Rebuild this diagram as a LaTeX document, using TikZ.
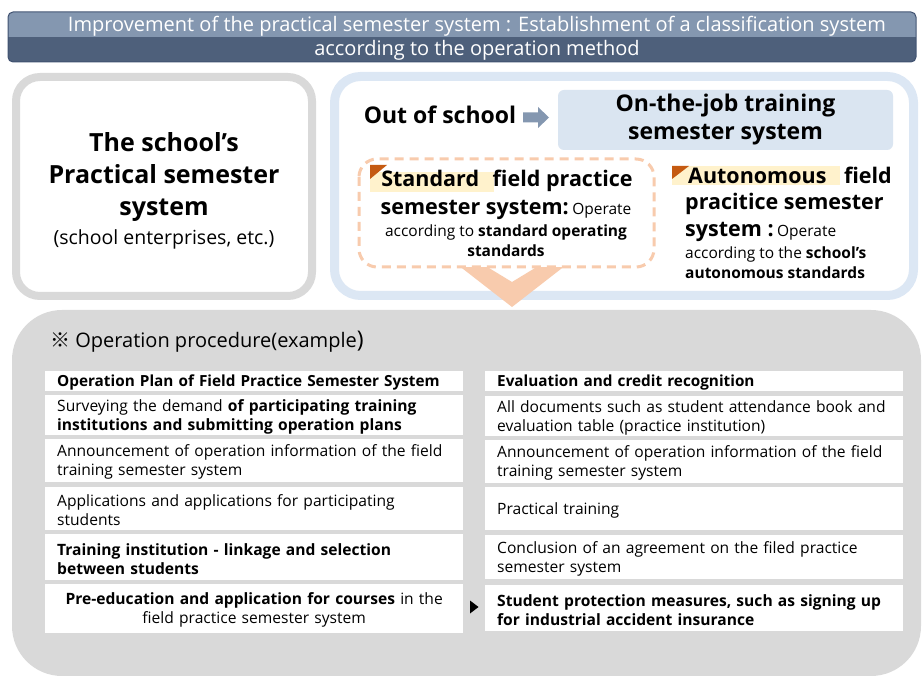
\documentclass[tikz,border=0pt]{standalone}
\usepackage{fontspec}
\setmainfont{Open Sans}
\newfontfamily\cjk{Noto Sans CJK SC}
\usetikzlibrary{positioning}
\definecolor{titlelight}{HTML}{8497B0}
\definecolor{titledark}{HTML}{4E607B}
\definecolor{titleedge}{HTML}{3F5170}
\definecolor{graybd}{HTML}{D9D9D9}
\definecolor{bluebd}{HTML}{DCE7F4}
\definecolor{ojtfill}{HTML}{DAE5F1}
\definecolor{peach}{HTML}{F8CBAD}
\definecolor{flagc}{HTML}{C55A11}
\definecolor{hlc}{HTML}{FFF2CC}
\definecolor{arrowc}{HTML}{8497B0}
\tikzset{
  rowbox/.style={fill=white, inner xsep=12pt, inner ysep=0pt, text width=394pt, align=left, anchor=north west,
    font=\fontsize{15.6}{19}\selectfont, execute at begin node=\rule{0pt}{15pt}},
  rowboxc/.style={rowbox, align=center},
  txt/.style={inner sep=0pt, text=black},
}
\begin{document}
\begin{tikzpicture}[x=1pt,y=-1pt]
\useasboundingbox (0,0) rectangle (922,676);
% title bar
\begin{scope}
  \clip[rounded corners=5pt] (8,12) rectangle (916,62);
  \fill[titlelight] (8,12) rectangle (916,37);
  \fill[titledark] (8,37) rectangle (916,62);
\end{scope}
\draw[titleedge, line width=1pt, rounded corners=5pt] (8,12) rectangle (916,62);
\node[txt, text=white, align=center, font=\fontsize{20}{24}\selectfont] (title) at (477,38)
  {Improvement of the practical semester system : Establishment of a classification system\\according to the operation method};

% left box
\draw[graybd, line width=8pt, fill=white, rounded corners=24pt] (16,77) rectangle (312,296);
\node[txt, align=center, font=\fontsize{25}{32}\selectfont\bfseries] (school) at (164,191)
  {The school’s\\Practical semester\\system\\[-3pt]\fontsize{19.5}{22}\selectfont\mdseries (school enterprises, etc.)};

% right box
\draw[bluebd, line width=9pt, fill=white, rounded corners=26pt] (334.5,76.5) rectangle (913.5,295.5);
\node[txt, font=\fontsize{23}{24}\selectfont\bfseries] (out) at (440,115) {Out of school};
\node[fill=ojtfill, rounded corners=6pt, minimum width=335pt, minimum height=60pt, align=center,
  font=\fontsize{23}{28}\selectfont\bfseries] (ojt) at (725.5,120) {On-the-job training\\semester system};
\fill[arrowc] (523,112.5) -- (538,112.5) -- (538,107) -- (549,117.5) -- (538,128) -- (538,122.5) -- (523,122.5) -- cycle;

% chevron
\fill[peach] (458,265) -- (512,307) -- (566,265) -- (540,265) -- (512,282) -- (484,265) -- cycle;
% dashed standard box
\draw[peach, line width=3pt, dash pattern=on 9pt off 6pt, fill=white, rounded corners=18pt] (359,159) rectangle (654,267);
% highlights and flags
\fill[hlc] (370,172) rectangle (494,192);
\fill[flagc] (370,165) -- (387,165) -- (370,179) -- cycle;
\fill[hlc] (672,166) rectangle (840,185);
\fill[flagc] (672,166) -- (689,166) -- (672,179) -- cycle;

\node[txt, font=\fontsize{21.5}{24}\selectfont\bfseries] (std1) at (507,181) {Standard\hspace{8pt} field practice};
\node[txt] (std2) at (506,210) {{\fontsize{21.5}{24}\selectfont\bfseries semester system:} {\fontsize{15.5}{18}\selectfont Operate}};
\node[txt, font=\fontsize{15.5}{18}\selectfont] (std3) at (506,232) {according to \textbf{standard operating}};
\node[txt, font=\fontsize{15.5}{18}\selectfont\bfseries] (std4) at (506,251) {standards};

\node[txt, anchor=west, font=\fontsize{21.5}{24}\selectfont\bfseries] (aut1) at (688,175) {Autonomous\hspace{12pt} field};
\node[txt, anchor=west, font=\fontsize{21.5}{24}\selectfont\bfseries] (aut2) at (685,204) {pracitice semester};
\node[txt, anchor=west] (aut3) at (685,232) {{\fontsize{21.5}{24}\selectfont\bfseries system :} {\fontsize{15.5}{18}\selectfont Operate}};
\node[txt, anchor=west, font=\fontsize{15.5}{18}\selectfont] (aut4) at (685,254) {according to the \textbf{school's}};
\node[txt, anchor=west, font=\fontsize{15.5}{18}\selectfont\bfseries] (aut5) at (685,273) {autonomous standards};

% bottom region
\fill[graybd, rounded corners=50pt] (12,310) rectangle (921,676);
\node[txt, anchor=west, font=\fontsize{20}{22}\selectfont] (proc) at (50,342) {{\cjk ※} Operation procedure(example{\fontsize{23}{22}\selectfont)}};

% left column
\node[rowbox, minimum height=20pt, font=\fontsize{15.3}{19}\selectfont\bfseries] (l1) at (45,371) {Operation Plan of Field Practice Semester System};
\node[rowbox, minimum height=40pt] (l2) at (45,395) {Surveying the demand \textbf{of participating training}\\\textbf{institutions and submitting operation plans}};
\node[rowbox, minimum height=43pt] (l3) at (45,439) {Announcement of operation information of the field\\training semester system};
\node[rowbox, minimum height=43pt] (l4) at (45,487) {Applications and applications for participating\\students};
\node[rowbox, minimum height=46pt, font=\fontsize{15.6}{19}\selectfont\bfseries] (l5) at (45,534) {Training institution - linkage and selection\\between students};
\node[rowboxc, minimum height=49pt] (l6) at (45,584) {\textbf{Pre-education and application for courses} in the\\field practice semester system};

% right column
\node[rowbox, minimum height=20pt, font=\fontsize{15.3}{19}\selectfont\bfseries] (r1) at (485,371) {Evaluation and credit recognition};
\node[rowbox, minimum height=40pt] (r2) at (485,396) {All documents such as student attendance book and\\evaluation table (practice institution)};
\node[rowbox, minimum height=43pt] (r3) at (485,440) {Announcement of operation information of the field\\training semester system};
\node[rowbox, minimum height=43pt] (r4) at (485,487) {Practical training};
\node[rowbox, minimum height=44pt] (r5) at (485,535) {Conclusion of an agreement on the filed practice\\semester system};
\node[rowbox, minimum height=46pt, font=\fontsize{15.6}{19}\selectfont\bfseries] (r6) at (485,585) {Student protection measures, such as signing up\\for industrial accident insurance};

% small pointer
\fill[black] (470,600.5) -- (478.5,607) -- (470,613.5) -- cycle;
\end{tikzpicture}
\end{document}
